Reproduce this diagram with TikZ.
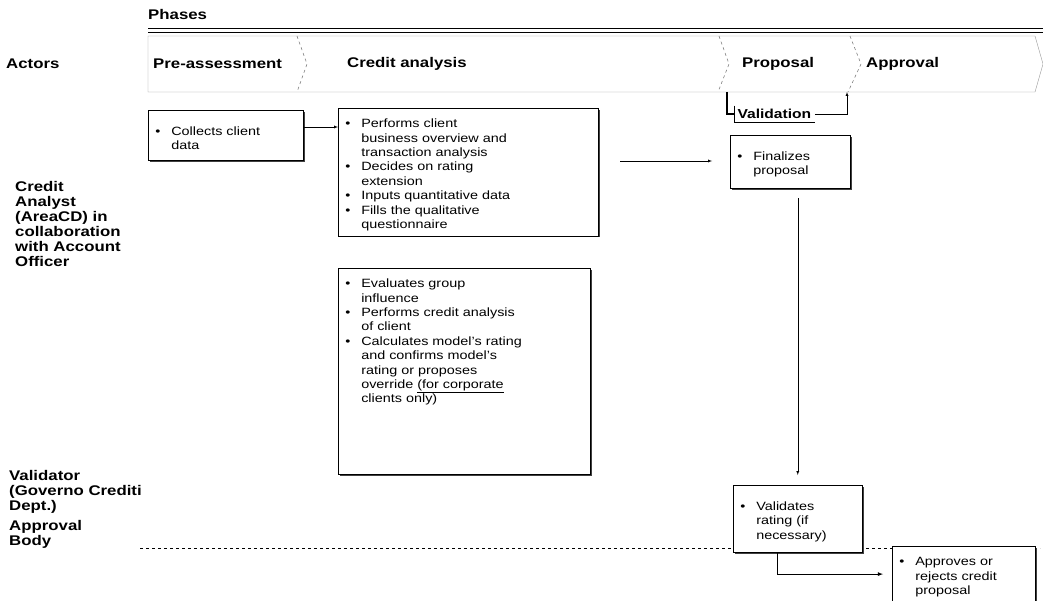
\documentclass[tikz,border=0pt]{standalone}
\usepackage{fontspec}
\setmainfont{Liberation Sans}[FakeStretch=1.2]
\usetikzlibrary{shadows}
\tikzset{
  actbox/.style={draw, fill=white, line width=0.5pt, anchor=north west, align=left, inner sep=5pt,
    general shadow={shadow xshift=1.3pt, shadow yshift=-1.3pt, fill=black!75},
    font=\fontsize{12}{14.4}\selectfont},
  lbl/.style={anchor=north west, align=left, inner sep=0pt, font=\fontsize{14}{15}\selectfont\bfseries},
  phase/.style={anchor=west, inner sep=0pt, font=\fontsize{14}{15}\selectfont\bfseries},
  notch/.style={gray, dashed, line width=0.6pt},
}
\newcommand{\bitem}[1]{\par\noindent\hangindent=1.5em\hangafter=1\makebox[1.5em][l]{\hspace{2pt}\textbullet}#1\par}

\begin{document}
\begin{tikzpicture}[x=1pt, y=-1pt]
    \useasboundingbox (0,0) rectangle (1043,601);
    % Header
    \node[phase] (phases) at (148,15) {Phases};
    \draw (148,28) -- (1043,28);
    \draw (148,32) -- (1043,32);
    % Phase bar
    \draw[gray!80] (148,36) -- (1035,36) -- (1043,64) -- (1035,92) -- (148,92) -- cycle;
    \draw[notch] (297,36) -- (307,64) -- (297,92);
    \draw[notch] (719,36) -- (729,64) -- (718,92);
    \draw[notch] (850,36) -- (861,64) -- (848,92);
    \node[phase] (pre) at (153,64) {Pre-assessment};
    \node[phase] (credit) at (347,64) {Credit analysis};
    \node[phase] (prop) at (742,64) {Proposal};
    \node[phase] (appr) at (866,64) {Approval};
    \coordinate (propfoot) at (727,92);
    \coordinate (apprfoot) at (847,92);
    % Actors
    \node[phase] (actors) at (6,64) {Actors};
    \node[lbl] (analyst) at (15,181) {Credit\\Analyst\\(AreaCD) in\\collaboration\\with Account\\Officer};
    \node[lbl] (validator) at (9,470) {Validator\\(Governo Crediti\\Dept.)};
    \node[lbl] (body) at (9,520) {Approval\\Body};
    \draw[dashed] (140,548) -- (1040,548);
    % Activities
    \node[actbox, text width=145pt, minimum height=50pt] (collect) at (148,110)
        {\bitem{Collects client\newline data}};
    \node[actbox, text width=250pt] (perform) at (338,108)
        {\bitem{Performs client\newline business overview and\newline transaction analysis}
         \bitem{Decides on rating\newline extension}
         \bitem{Inputs quantitative data}
         \bitem{Fills the qualitative\newline questionnaire}};
    \node[actbox, text width=242pt] (evaluate) at (338,268)
        {\bitem{Evaluates group\newline influence}
         \bitem{Performs credit analysis\newline of client}
         \bitem{Calculates model's rating\newline and confirms model's\newline rating or proposes\newline override \underline{(for corporate}\newline clients only)}
         \vspace*{52pt}\null};
    \node[actbox, text width=110pt, minimum height=53pt] (final) at (730,135)
        {\bitem{Finalizes\newline proposal}};
    \node[actbox, text width=119pt, minimum height=67pt] (valid) at (733,485)
        {\bitem{Validates\newline rating (if\newline necessary)}};
    \node[actbox, text width=133pt, minimum height=51pt] (approve) at (892,546)
        {\bitem{Approves or\newline rejects credit\newline proposal}};
    \node[anchor=west, font=\fontsize{13}{14}\selectfont\bfseries] (val) at (734,114) {Validation};
    % Flow
    \coordinate (fstart) at (620,161);
    \draw[-latex] (collect.east |- 0,127) -- (perform.west |- 0,127);
    \draw[-latex] (fstart) -- (fstart -| 712,0);
    \draw (val.north west) |- (val.south east);
    \draw[line width=1.3pt] (propfoot) |- (val.west);
    \draw[-latex] (val.east) -| (apprfoot);
    \draw[-latex] ([yshift=-10pt]final.south -| valid.north) -- ([yshift=10pt]valid.north);
    \draw[-latex, thick] ([xshift=-20pt]valid.south) |- ([xshift=-9pt]approve.west);
\end{tikzpicture}
\end{document}
